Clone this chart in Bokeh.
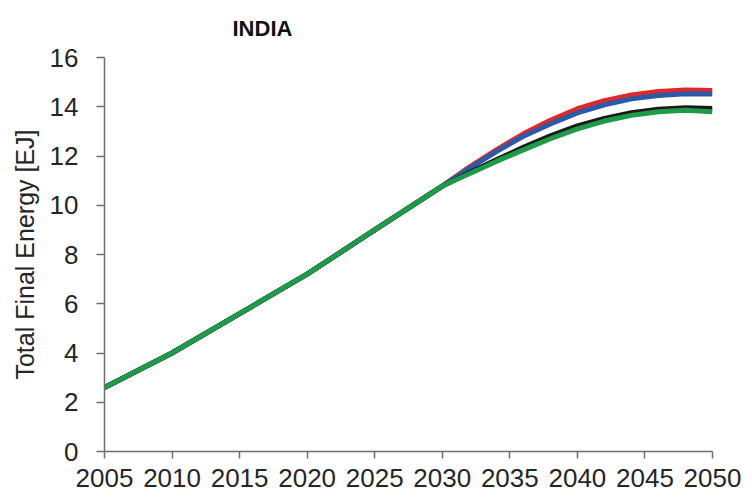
from bokeh.plotting import figure
from bokeh.models import Range1d, FixedTicker
from bokeh.embed import file_html
from bokeh.resources import INLINE

years_common = [2005, 2010, 2015, 2020, 2025, 2030]
values_common = [2.6, 4.0, 5.6, 7.2, 9.0, 10.78]

years_tail = [2030, 2032, 2034, 2036, 2038, 2040, 2042, 2044, 2046, 2048, 2050]
red_tail = [10.78, 11.55, 12.25, 12.9, 13.45, 13.92, 14.25, 14.48, 14.62, 14.68, 14.66]
blue_tail = [10.78, 11.5, 12.18, 12.8, 13.3, 13.75, 14.08, 14.32, 14.46, 14.53, 14.52]
black_tail = [10.78, 11.32, 11.85, 12.35, 12.82, 13.22, 13.53, 13.76, 13.9, 13.96, 13.93]
green_tail = [10.78, 11.28, 11.78, 12.25, 12.7, 13.1, 13.42, 13.65, 13.8, 13.86, 13.8]

x_ticks = [2005, 2010, 2015, 2020, 2025, 2030, 2035, 2040, 2045, 2050]
y_ticks = [0, 2, 4, 6, 8, 10, 12, 14, 16]

series = [
    ("red", red_tail, "#e0282a"),
    ("blue", blue_tail, "#2d5aa8"),
    ("black", black_tail, "#1a1a1a"),
    ("green", green_tail, "#1f9a48"),
]

p = figure(width=752, height=499, output_backend="svg", toolbar_location=None,
           x_range=Range1d(2005, 2050), y_range=Range1d(0, 16),
           min_border_left=104, min_border_right=40, min_border_top=56, min_border_bottom=48,
           title="INDIA")
p.outline_line_color = None
p.grid.visible = False
p.background_fill_color = "white"
p.border_fill_color = "white"

p.title.align = "left"
p.title.offset = 128
p.title.standoff = 30
p.title.vertical_align = "top"
p.title.text_font = "Liberation Sans"
p.title.text_font_style = "bold"
p.title.text_font_size = "22px"
p.title.text_color = "#111111"

for name, tail, color in series:
    xs = years_common[:-1] + years_tail
    ys = values_common[:-1] + tail
    p.line(xs, ys, line_color=color, line_width=5, line_join="round")

text_color = "#262626"
axis_color = "#6e6e6e"

p.xaxis.ticker = FixedTicker(ticks=x_ticks)
p.yaxis.ticker = FixedTicker(ticks=y_ticks)
for ax in (p.xaxis[0], p.yaxis[0]):
    ax.axis_line_color = axis_color
    ax.axis_line_width = 1.5
    ax.major_tick_line_color = axis_color
    ax.major_tick_line_width = 1.5
    ax.major_tick_in = 0
    ax.major_tick_out = 8
    ax.minor_tick_line_color = None
    ax.major_label_text_font = "Liberation Sans"
    ax.major_label_text_font_size = "26px"
    ax.major_label_text_color = text_color

p.xaxis.major_tick_out = 7
p.xaxis.major_label_standoff = 10
p.yaxis.major_label_standoff = 18
p.yaxis.axis_label = "Total Final Energy [EJ]"
p.yaxis.axis_label_text_font = "Liberation Sans"
p.yaxis.axis_label_text_font_size = "25px"
p.yaxis.axis_label_text_font_style = "normal"
p.yaxis.axis_label_text_color = text_color
p.yaxis.axis_label_standoff = 8

html = file_html(p, INLINE)
open("out.html", "w").write(html)
